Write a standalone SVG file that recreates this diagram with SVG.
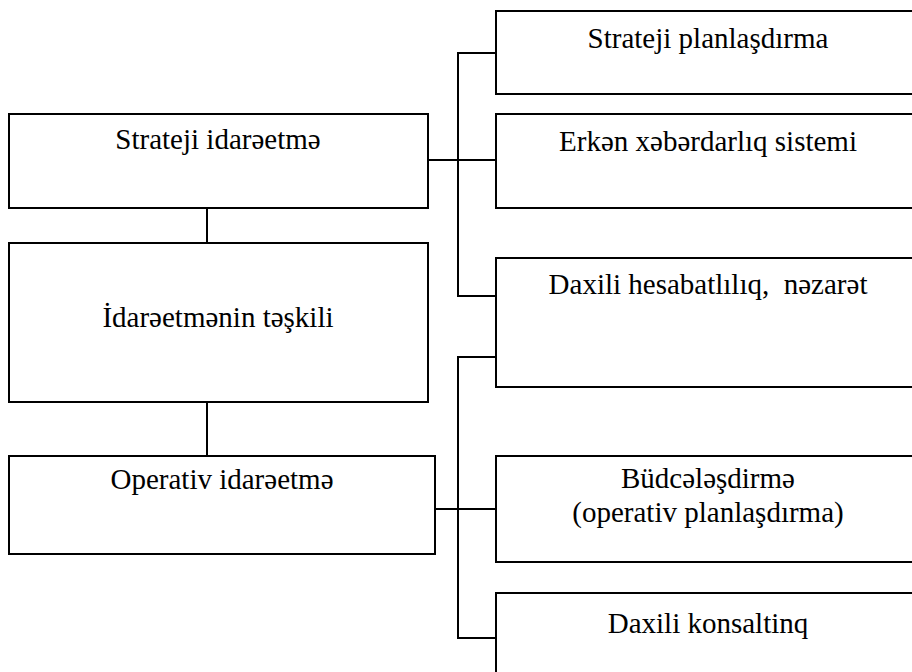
<svg xmlns="http://www.w3.org/2000/svg" width="912" height="672" viewBox="0 0 912 672">
  <style>
    .box { fill: #ffffff; stroke: #000000; stroke-width: 2; }
    .lbl { font-family: "Liberation Serif", "Times New Roman", serif; font-size: 29px; fill: #000000; text-anchor: middle; }
    .wire { fill: none; stroke: #000000; stroke-width: 2; }
  </style>
  <rect width="912" height="672" fill="#ffffff"/>

  <!-- connectors -->
  <g id="connectors">
    <line class="wire" x1="207" y1="208" x2="207" y2="243"/>
    <line class="wire" x1="207" y1="402" x2="207" y2="456"/>
    <polyline class="wire" points="496,53 458,53 458,296 496,296"/>
    <line class="wire" x1="428" y1="160" x2="496" y2="160"/>
    <polyline class="wire" points="496,357 458,357 458,638 496,638"/>
    <line class="wire" x1="435" y1="509" x2="496" y2="509"/>
  </g>

  <!-- left column -->
  <g id="strateji-idareetme">
    <rect class="box" x="9" y="114" width="419" height="94"/>
    <text class="lbl" x="218" y="149">Strateji idarəetmə</text>
  </g>
  <g id="idareetmenin-teskili">
    <rect class="box" x="9" y="243" width="419" height="159"/>
    <text class="lbl" x="218" y="327">İdarəetmənin təşkili</text>
  </g>
  <g id="operativ-idareetme">
    <rect class="box" x="9" y="456" width="426" height="98"/>
    <text class="lbl" x="222" y="489">Operativ idarəetmə</text>
  </g>

  <!-- right column -->
  <g id="strateji-planlasdirma">
    <rect class="box" x="496" y="11" width="430" height="83"/>
    <text class="lbl" x="708" y="48">Strateji planlaşdırma</text>
  </g>
  <g id="erken-xeberdarliq">
    <rect class="box" x="496" y="114" width="430" height="94"/>
    <text class="lbl" x="708" y="151">Erkən xəbərdarlıq sistemi</text>
  </g>
  <g id="daxili-hesabatliliq">
    <rect class="box" x="496" y="258" width="430" height="129"/>
    <text class="lbl" x="708" y="294" xml:space="preserve">Daxili hesabatlılıq,  nəzarət</text>
  </g>
  <g id="budcelesdirme">
    <rect class="box" x="496" y="456" width="430" height="106"/>
    <text class="lbl" x="708" y="488">Büdcələşdirmə</text>
    <text class="lbl" x="708" y="522">(operativ planlaşdırma)</text>
  </g>
  <g id="daxili-konsaltinq">
    <rect class="box" x="496" y="593" width="430" height="100"/>
    <text class="lbl" x="708" y="633">Daxili konsaltinq</text>
  </g>
</svg>
